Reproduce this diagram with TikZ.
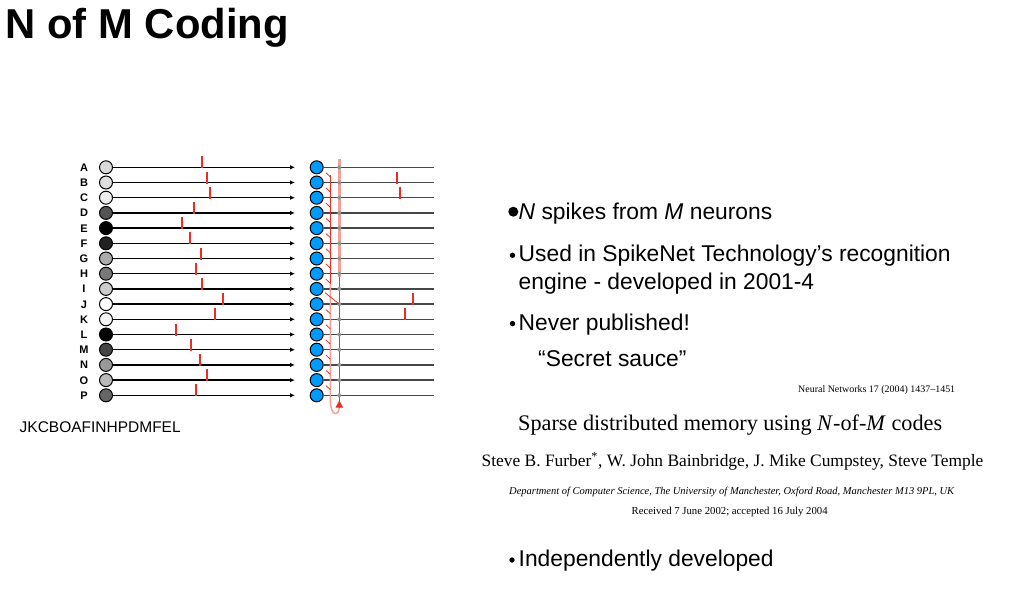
\documentclass[tikz,border=0pt]{standalone}
\usepackage{fontspec}
\setmainfont{Liberation Sans}
\newfontfamily\seriff{Liberation Serif}
\usetikzlibrary{arrows.meta}
\definecolor{spk}{RGB}{235,45,35}
\definecolor{pinkl}{RGB}{246,158,152}
\definecolor{blu}{RGB}{0,155,250}
\definecolor{dotg}{RGB}{150,150,150}
\newlength\mylen
\newcommand\measureit[2]{\settowidth\mylen{\fontsize{10}{12}#1\selectfont #2}}
\begin{document}%
\measureit{\bfseries}{N of M Coding}\pgfmathsetmacro\fsT{10*283/\mylen}%
\measureit{}{Used in SpikeNet Technology’s recognition}\pgfmathsetmacro\fsB{10*432/\mylen}%
\measureit{}{JKCBOAFINHPDMFEL}\pgfmathsetmacro\fsJ{10*161/\mylen}%
\measureit{\seriff}{Neural Networks 17 (2004) 1437–1451}\pgfmathsetmacro\fsN{10*157/\mylen}%
\measureit{\seriff}{Sparse distributed memory using \textit{N}-of-\textit{M} codes}\pgfmathsetmacro\fsP{10*424/\mylen}%
\measureit{\seriff}{Steve B. Furber\textsuperscript{*}, W. John Bainbridge, J. Mike Cumpstey, Steve Temple}\pgfmathsetmacro\fsA{10*502/\mylen}%
\measureit{\seriff\itshape}{Department of Computer Science, The University of Manchester, Oxford Road, Manchester M13 9PL, UK}\pgfmathsetmacro\fsD{10*445/\mylen}%
\measureit{\seriff}{Received 7 June 2002; accepted 16 July 2004}\pgfmathsetmacro\fsR{10*196/\mylen}%
\begin{tikzpicture}[x=1pt,y=-1pt,
  lc/.style={circle,draw=black,line width=1pt,minimum size=13pt,inner sep=0pt},
  bc/.style={lc,fill=blu},
  lbl/.style={font=\bfseries\fontsize{11}{13}\selectfont,inner sep=0pt,anchor=base},
  arr/.style={line width=1.3pt,-{Latex[length=5pt,width=4.5pt]}},
  rl/.style={line width=1.3pt,draw=black!72},
  spike/.style={draw=spk,line width=2pt},
  tickm/.style={draw=spk,line width=0.8pt},
  txt/.style={inner sep=0pt,anchor=base west},
  bul/.style={circle,fill=black,inner sep=0pt,minimum size=5.4pt}]
\useasboundingbox[fill=white] (0,0) rectangle (1033,590);

% title
\node[txt] (title) at (5.5,38.3) {\fontsize{\fsT}{\fsT}\bfseries\selectfont N of M Coding};

% rows
\foreach \L/\g/\s [count=\i from 0] in {A/15/202.3,B/13/207,C/7/210.3,D/67/193.7,E/100/182.3,F/87/189.7,G/33/201.3,H/53/196,I/20/202.3,J/0/223,K/4/215,L/100/176.3,M/73/190.7,N/40/199.7,O/27/207,P/60/196.3}{
  \pgfmathsetmacro\y{167.3+15.2*\i}
  \node[lbl] (lab\i) at (84,\y+4) {\L};
  \node[lc,fill=black!\g] (c\i) at (106,\y) {};
  \coordinate (t\i) at (295,\y);
  \draw[arr] (c\i) -- (t\i);
  \draw[spike] (\s,\y-11) -- (\s,\y+1);
  \node[bc] (b\i) at (316.7,\y) {};
  \coordinate (e\i) at (434,\y);
  \draw[rl] (b\i) -- (e\i);
}

% right spikes
\foreach \i/\s in {1/396.7,2/400,9/413,10/405}{
  \pgfmathsetmacro\y{167.3+15.2*\i}
  \draw[spike] (\s,\y-11) -- (\s,\y+1);
}

% vertical lines
\coordinate (vlT) at (330.3,175);
\coordinate (vlM) at (330.3,284);
\coordinate (vlB) at (330.3,400);
\coordinate (vrT) at (339.3,159);
\coordinate (vrM) at (339.3,277);
\coordinate (vrB) at (339.3,406);
\coordinate (vrA) at (339.3,400.5);
\draw[draw=spk,line width=1.1pt] (vlT) -- (vlM);
\draw[draw=pinkl,line width=1.5pt] (vlM) -- (vlB) .. controls (330.3,417) and (339.3,417) .. (vrB);
\draw[draw=pinkl,line width=2.6pt] (vrT) -- (vrM);
\draw[draw=spk,line width=1.1pt] (vrM) -- (vrA);
\fill[spk] (vrA) -- ++(-3.8,7) -- ++(7.6,0) -- cycle;

% ticks and dots
\foreach \i in {0,...,15}{
  \pgfmathsetmacro\y{167.3+15.2*\i}
  \fill[dotg] (339.3,\y) circle (2);
}
\foreach \i in {0,1,2,3,4,5,6,7,9,10,11,12,13,14}{
  \pgfmathsetmacro\y{167.3+15.2*\i}
  \draw[tickm] (326,\y+5.5) -- (330.3,\y+9.5);
}
\draw[tickm] (325,292.7) -- (339.3,304.1);

% sequence label
\node[txt] (seq) at (19.5,432.3) {\fontsize{\fsJ}{\fsJ}\selectfont JKCBOAFINHPDMFEL};

% bullets
\node[circle,fill=black,inner sep=0pt,minimum size=10pt] (b1) at (513.3,211.7) {};
\node[txt] (t1) at (518.5,219.3) {\fontsize{\fsB}{\fsB}\selectfont \textit{N} spikes from \textit{M} neurons};
\node[bul] (b2) at (512.5,255.3) {};
\node[txt] (t2) at (518.5,261.7) {\fontsize{\fsB}{\fsB}\selectfont Used in SpikeNet Technology’s recognition};
\node[txt] (t2b) at (518.5,289.3) {\fontsize{\fsB}{\fsB}\selectfont engine - developed in 2001-4};
\node[bul] (b3) at (512.5,323.6) {};
\node[txt] (t3) at (518.5,330) {\fontsize{\fsB}{\fsB}\selectfont Never published!};
\node[txt] (t3b) at (538,366.7) {\fontsize{\fsB}{\fsB}\selectfont “Secret sauce”};
\node[bul] (b4) at (512,560) {};
\node[txt] (t4) at (518.5,566.7) {\fontsize{\fsB}{\fsB}\selectfont Independently developed};

% paper header
\node[txt] (pj) at (798,392.3) {\fontsize{\fsN}{\fsN}\seriff\selectfont Neural Networks 17 (2004) 1437–1451};
\node[txt] (pt) at (518,430) {\fontsize{\fsP}{\fsP}\seriff\selectfont Sparse distributed memory using \textit{N}-of-\textit{M} codes};
\node[txt] (pa) at (481.5,466.7) {\fontsize{\fsA}{\fsA}\seriff\selectfont Steve B. Furber\textsuperscript{*}, W. John Bainbridge, J. Mike Cumpstey, Steve Temple};
\node[txt] (pd) at (509,494) {\fontsize{\fsD}{\fsD}\seriff\itshape\selectfont Department of Computer Science, The University of Manchester, Oxford Road, Manchester M13 9PL, UK};
\node[txt] (pr) at (631.5,514.3) {\fontsize{\fsR}{\fsR}\seriff\selectfont Received 7 June 2002; accepted 16 July 2004};
\end{tikzpicture}
\end{document}
